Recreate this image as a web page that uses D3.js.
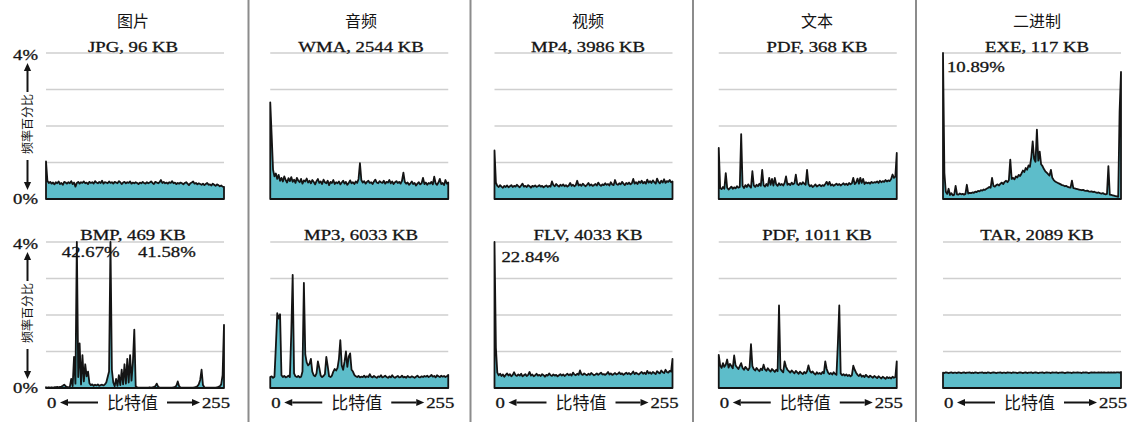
<!DOCTYPE html>
<html><head><meta charset="utf-8">
<script src="https://cdn.jsdelivr.net/npm/d3@7"></script>
<style>body{margin:0;background:#fff}svg{display:block}</style>
</head><body><svg id="c" width="1131" height="422"></svg>
<script>
// ---------- data (frequency %, 128 bins of 2 byte values each, 0..255) ----------
const categories = ["图片", "音频", "视频", "文本", "二进制"];
const topFiles = ["JPG, 96 KB", "WMA, 2544 KB", "MP4, 3986 KB", "PDF, 368 KB", "EXE, 117 KB"];
const bottomFiles = ["BMP, 469 KB", "MP3, 6033 KB", "FLV, 4033 KB", "PDF, 1011 KB", "TAR, 2089 KB"];
const gridTicks = [1, 2, 3, 4];
const yTickLabels = [{v: 4, t: "4%"}, {v: 0, t: "0%"}];
const xEndLabels = ["0", "255"];
const xAxisTitle = "比特值";
const yAxisTitle = "频率百分比";

const jpg = [
1.03,0.50,0.44,0.47,0.42,0.45,0.40,0.46,0.43,0.48,0.41,0.44,0.39,0.47,0.45,0.42,
0.46,0.43,0.49,0.41,0.45,0.34,0.44,0.47,0.42,0.46,0.44,0.48,0.43,0.45,0.41,0.47,
0.44,0.46,0.42,0.49,0.45,0.43,0.47,0.44,0.50,0.42,0.46,0.45,0.43,0.48,0.44,0.46,
0.42,0.47,0.45,0.43,0.49,0.46,0.41,0.45,0.47,0.43,0.46,0.44,0.48,0.42,0.45,0.43,
0.46,0.44,0.41,0.45,0.43,0.47,0.44,0.42,0.46,0.43,0.45,0.48,0.44,0.41,0.47,0.45,
0.43,0.46,0.52,0.44,0.47,0.43,0.45,0.42,0.46,0.44,0.49,0.43,0.45,0.41,0.44,0.42,
0.45,0.43,0.40,0.44,0.46,0.42,0.38,0.43,0.45,0.48,0.42,0.44,0.40,0.43,0.41,0.39,
0.42,0.38,0.41,0.44,0.39,0.40,0.37,0.42,0.39,0.36,0.40,0.38,0.35,0.37,0.34,0.33];

const wma = [
2.65,1.75,0.80,0.62,0.70,0.55,0.66,0.50,0.58,0.48,0.62,0.52,0.45,0.57,0.49,0.60,
0.47,0.53,0.44,0.58,0.50,0.46,0.55,0.42,0.51,0.48,0.56,0.45,0.50,0.43,0.52,0.47,
0.40,0.49,0.55,0.44,0.48,0.41,0.53,0.46,0.43,0.50,0.38,0.47,0.44,0.52,0.41,0.46,
0.43,0.48,0.40,0.45,0.50,0.42,0.47,0.39,0.44,0.51,0.43,0.46,0.41,0.48,0.44,0.55,
0.98,0.52,0.45,0.49,0.42,0.47,0.50,0.44,0.46,0.41,0.48,0.53,0.45,0.43,0.49,0.46,
0.44,0.50,0.42,0.47,0.45,0.52,0.43,0.48,0.41,0.46,0.49,0.44,0.47,0.42,0.50,0.72,
0.47,0.42,0.45,0.39,0.43,0.48,0.41,0.44,0.37,0.42,0.46,0.40,0.43,0.58,0.41,0.45,
0.39,0.44,0.42,0.47,0.40,0.61,0.43,0.39,0.45,0.55,0.41,0.44,0.38,0.52,0.42,0.45];

const mp4 = [
1.33,0.45,0.36,0.33,0.38,0.34,0.31,0.36,0.33,0.37,0.32,0.35,0.38,0.33,0.36,0.34,
0.39,0.35,0.32,0.37,0.42,0.34,0.36,0.33,0.38,0.35,0.31,0.36,0.34,0.37,0.33,0.35,
0.38,0.34,0.36,0.32,0.35,0.37,0.33,0.36,0.34,0.48,0.38,0.35,0.41,0.37,0.34,0.39,
0.36,0.40,0.35,0.38,0.34,0.37,0.44,0.36,0.39,0.35,0.38,0.50,0.37,0.40,0.36,0.42,
0.38,0.35,0.39,0.44,0.37,0.40,0.36,0.38,0.41,0.37,0.45,0.39,0.36,0.40,0.38,0.43,
0.39,0.41,0.37,0.46,0.40,0.38,0.52,0.41,0.39,0.43,0.40,0.47,0.42,0.38,0.44,0.41,
0.45,0.40,0.43,0.55,0.42,0.46,0.41,0.48,0.44,0.50,0.43,0.47,0.42,0.53,0.45,0.49,
0.44,0.51,0.46,0.42,0.56,0.47,0.43,0.50,0.45,0.54,0.44,0.49,0.47,0.52,0.46,0.48];

const pdf368 = [
1.40,0.30,0.27,0.33,0.28,0.71,0.31,0.26,0.30,0.34,0.28,0.32,0.29,0.35,0.31,0.33,
1.78,0.36,0.30,0.38,0.33,0.40,0.35,0.31,0.76,0.37,0.33,0.39,0.35,0.42,0.36,0.80,
0.38,0.34,0.41,0.36,0.58,0.39,0.55,0.37,0.58,0.40,0.36,0.43,0.38,0.41,0.37,0.44,
0.62,0.39,0.42,0.38,0.45,0.40,0.43,0.67,0.41,0.38,0.44,0.40,0.46,0.42,0.39,0.80,
0.41,0.35,0.38,0.33,0.36,0.40,0.34,0.37,0.39,0.35,0.38,0.36,0.41,0.47,0.39,0.47,
0.37,0.40,0.36,0.39,0.42,0.38,0.41,0.37,0.40,0.43,0.39,0.42,0.38,0.44,0.40,0.43,
0.58,0.41,0.45,0.56,0.42,0.58,0.44,0.55,0.41,0.46,0.43,0.45,0.42,0.47,0.44,0.46,
0.45,0.48,0.44,0.50,0.46,0.49,0.47,0.52,0.48,0.51,0.49,0.55,0.67,0.58,0.62,1.26];

const exe = [
10.89,0.71,0.20,0.14,0.28,0.11,0.16,0.10,0.12,0.36,0.13,0.12,0.15,0.13,0.14,0.12,
0.14,0.39,0.15,0.17,0.16,0.18,0.17,0.20,0.19,0.22,0.21,0.24,0.23,0.26,0.25,0.28,
0.30,0.33,0.31,0.58,0.36,0.34,0.38,0.40,0.37,0.42,0.45,0.41,0.47,0.50,0.46,0.52,
1.08,0.55,0.58,0.54,0.62,0.59,0.66,0.63,0.70,0.78,0.74,0.85,0.80,0.92,0.88,1.15,
1.58,1.10,1.02,1.90,1.05,1.30,0.95,0.90,0.82,0.76,0.72,0.68,0.64,0.80,0.58,0.52,
0.48,0.46,0.44,0.42,0.40,0.38,0.37,0.35,0.36,0.33,0.32,0.31,0.50,0.30,0.29,0.28,
0.27,0.26,0.25,0.24,0.25,0.23,0.22,0.23,0.21,0.20,0.21,0.19,0.20,0.18,0.17,0.18,
0.16,0.15,0.16,0.14,0.13,0.14,0.90,0.12,0.11,0.10,0.09,0.08,0.07,0.06,2.40,3.48];

const bmp = [
0.02,0.01,0.02,0.01,0.02,0.01,0.02,0.02,0.03,0.02,0.03,0.04,0.06,0.09,0.05,0.03,
0.02,0.03,0.25,0.05,0.85,0.12,42.67,0.30,1.22,0.10,0.90,0.18,0.65,0.32,0.45,0.13,
0.08,0.10,0.06,0.09,0.07,0.10,0.06,0.08,0.09,0.07,0.10,0.15,0.30,0.45,41.58,0.50,
0.15,0.05,0.25,0.06,0.35,0.08,0.50,0.10,0.65,0.12,0.80,0.15,0.90,0.20,0.70,1.60,
0.05,0.02,0.01,0.01,0.01,0.01,0.01,0.01,0.01,0.01,0.02,0.01,0.02,0.03,0.05,0.12,
0.04,0.01,0.01,0.01,0.01,0.01,0.01,0.01,0.01,0.01,0.01,0.02,0.03,0.06,0.18,0.05,
0.01,0.01,0.01,0.01,0.01,0.01,0.01,0.01,0.01,0.01,0.02,0.03,0.05,0.10,0.22,0.50,
0.08,0.02,0.01,0.01,0.01,0.01,0.01,0.01,0.01,0.01,0.02,0.03,0.05,0.10,0.35,1.73];

const mp3 = [
0.30,0.32,0.28,0.31,1.14,2.05,1.90,2.02,0.35,0.30,0.33,0.29,0.31,0.34,0.30,1.50,
3.10,0.40,0.32,0.30,0.33,0.29,0.31,0.45,2.88,0.92,0.70,0.62,0.66,0.80,0.45,0.35,
0.32,0.40,0.73,0.55,0.34,0.30,0.33,0.38,0.85,0.60,0.32,0.30,0.34,0.45,0.52,0.48,
0.55,0.80,1.31,0.62,0.50,0.72,1.00,0.58,0.86,0.95,0.50,0.45,0.36,0.32,0.30,0.33,
0.29,0.31,0.30,0.34,0.29,0.32,0.30,0.38,0.31,0.29,0.33,0.30,0.28,0.32,0.30,0.35,
0.29,0.31,0.34,0.30,0.28,0.32,0.29,0.35,0.30,0.28,0.31,0.33,0.29,0.30,0.34,0.29,
0.31,0.28,0.33,0.30,0.29,0.32,0.30,0.28,0.31,0.34,0.30,0.29,0.32,0.30,0.33,0.31,
0.34,0.30,0.32,0.36,0.31,0.33,0.29,0.35,0.32,0.30,0.34,0.31,0.33,0.30,0.32,0.36];

const flv = [
22.84,1.10,0.42,0.35,0.39,0.33,0.37,0.31,0.36,0.40,0.34,0.38,0.32,0.36,0.43,0.35,
0.33,0.37,0.34,0.39,0.32,0.35,0.38,0.33,0.36,0.44,0.34,0.37,0.32,0.35,0.39,0.34,
0.36,0.33,0.38,0.35,0.31,0.36,0.34,0.40,0.35,0.33,0.37,0.34,0.36,0.32,0.35,0.38,
0.34,0.37,0.33,0.36,0.39,0.35,0.38,0.34,0.42,0.37,0.35,0.39,0.36,0.48,0.38,0.36,
0.40,0.37,0.35,0.39,0.36,0.41,0.38,0.35,0.37,0.40,0.36,0.39,0.42,0.37,0.38,0.36,
0.39,0.44,0.37,0.40,0.36,0.38,0.41,0.37,0.39,0.43,0.38,0.40,0.36,0.39,0.42,0.38,
0.41,0.37,0.40,0.45,0.38,0.42,0.39,0.37,0.41,0.44,0.39,0.42,0.38,0.47,0.40,0.43,
0.39,0.44,0.41,0.38,0.46,0.42,0.40,0.48,0.43,0.41,0.50,0.44,0.42,0.47,0.45,0.80];

const pdf1011 = [
0.91,0.62,0.55,0.68,0.58,0.64,0.78,0.56,0.66,0.60,0.54,0.89,0.62,0.57,0.52,0.60,
0.68,0.55,0.50,0.58,0.53,0.49,0.56,1.20,0.60,0.52,0.48,0.55,0.50,0.46,0.53,0.49,
0.64,0.51,0.47,0.54,0.49,0.45,0.52,0.48,0.44,0.50,0.46,2.26,0.52,0.47,0.43,0.73,
0.58,0.50,0.46,0.42,0.48,0.44,0.40,0.47,0.43,0.39,0.45,0.41,0.38,0.44,0.40,0.46,
0.62,0.47,0.42,0.45,0.40,0.37,0.43,0.39,0.41,0.38,0.44,0.40,0.73,0.52,0.42,0.38,
0.41,0.37,0.43,0.39,0.36,1.23,2.26,0.40,0.35,0.38,0.34,0.37,0.33,0.36,0.32,0.35,
0.61,0.50,0.42,0.36,0.33,0.38,0.31,0.34,0.30,0.36,0.32,0.29,0.34,0.31,0.28,0.33,
0.30,0.27,0.32,0.29,0.26,0.31,0.28,0.25,0.30,0.27,0.29,0.26,0.31,0.28,0.30,0.73];

const tar = [
0.42,0.41,0.43,0.42,0.41,0.42,0.43,0.41,0.42,0.42,0.41,0.43,0.42,0.41,0.42,0.43,
0.41,0.42,0.42,0.43,0.41,0.42,0.41,0.43,0.42,0.41,0.42,0.42,0.43,0.41,0.42,0.41,
0.43,0.42,0.41,0.42,0.43,0.42,0.41,0.42,0.42,0.43,0.41,0.42,0.42,0.41,0.43,0.42,
0.42,0.41,0.43,0.42,0.42,0.41,0.42,0.43,0.42,0.41,0.42,0.43,0.41,0.42,0.42,0.43,
0.41,0.42,0.43,0.42,0.41,0.42,0.42,0.43,0.41,0.42,0.43,0.42,0.42,0.41,0.43,0.42,
0.42,0.43,0.41,0.42,0.42,0.43,0.42,0.41,0.42,0.43,0.42,0.42,0.41,0.43,0.42,0.42,
0.43,0.42,0.42,0.41,0.43,0.42,0.43,0.42,0.41,0.42,0.43,0.42,0.43,0.42,0.42,0.43,
0.42,0.43,0.42,0.43,0.42,0.42,0.43,0.42,0.43,0.42,0.43,0.42,0.43,0.43,0.42,0.44];

const rowsData = [[jpg, wma, mp4, pdf368, exe], [bmp, mp3, flv, pdf1011, tar]];
const rowFiles = [topFiles, bottomFiles];

// ---------- layout ----------
const svg = d3.select("#c");
const SERIF = "'Liberation Serif','Times New Roman',serif";
const CJK = "'Noto Sans CJK SC','Noto Sans',sans-serif";
const INK = "#141414";
const FILL = "#5dbdca";
const plotLeft0 = 46, colStep = 224.25, plotW = 178;
const rowTop = [53, 242], rowBase = [199, 388];
const titleX = [133, 361, 588, 817, 1037];
const separators = [248.5, 470.5, 693, 916];
const STRETCH = 1.25;
// label offsets for clipped spikes: [row, col] -> dx list, dy
const spikeLabelPos = {"1-0": [[-15, 15], [27.5, 15]], "0-4": [[4, 19]], "1-2": [[7, 20]]};

function serifText(g, x, y, txt, anchor, size) {
  return g.append("text")
    .attr("transform", `translate(${x},${y}) scale(${STRETCH},1)`)
    .attr("text-anchor", anchor || "middle")
    .attr("font-family", SERIF).attr("font-size", size || 15)
    .attr("fill", INK).attr("stroke", INK).attr("stroke-width", 0.3).text(txt);
}
function arrow(g, x1, y1, x2, y2) {
  const dx = x2 - x1, dy = y2 - y1, L = Math.hypot(dx, dy), ux = dx / L, uy = dy / L, h = 8, w = 3.6;
  const bx = x2 - ux * h, by = y2 - uy * h;
  g.append("line").attr("x1", x1).attr("y1", y1).attr("x2", bx).attr("y2", by)
    .attr("stroke", INK).attr("stroke-width", 2);
  g.append("path").attr("d", `M${x2},${y2}L${bx - uy * w},${by + ux * w}L${bx + uy * w},${by - ux * w}Z`)
    .attr("fill", INK);
}

// separators
separators.forEach(sx => svg.append("line").attr("x1", sx).attr("x2", sx).attr("y1", 0).attr("y2", 422)
  .attr("stroke", "#8c8c8c").attr("stroke-width", 2));

// category titles
categories.forEach((t, c) => svg.append("text").attr("x", titleX[c]).attr("y", 27)
  .attr("text-anchor", "middle").attr("font-family", CJK).attr("font-size", 16).attr("fill", INK).text(t));

rowsData.forEach((row, r) => {
  row.forEach((series, c) => {
    const g = svg.append("g");
    const left = plotLeft0 + c * colStep;
    const x = d3.scaleLinear().domain([0, series.length - 1]).range([left, left + plotW]);
    const y = d3.scaleLinear().domain([0, 4]).range([rowBase[r], rowTop[r]]).clamp(true);

    g.selectAll("line.grid").data(gridTicks).join("line").attr("class", "grid")
      .attr("x1", left).attr("x2", left + plotW)
      .attr("y1", d => y(d)).attr("y2", d => y(d))
      .attr("stroke", "#cfcfcf").attr("stroke-width", 1.5);

    const area = d3.area().x((d, i) => x(i)).y0(y(0)).y1(d => y(d));
    g.append("path").datum(series).attr("d", area)
      .attr("fill", FILL).attr("stroke", INK).attr("stroke-width", 1.8)
      .attr("stroke-linejoin", "round");

    // file subtitle
    serifText(g, titleX[c], rowTop[r] - (r === 0 ? 1 : 2), rowFiles[r][c], "middle", 15);

    // labels for clipped spikes
    const pos = spikeLabelPos[r + "-" + c];
    if (pos) {
      let k = 0;
      series.forEach((v, i) => {
        if (v > 4 && pos[k]) {
          serifText(g, x(i) + pos[k][0], rowTop[r] + pos[k][1], d3.format(".2f")(v) + "%", "start", 15);
          k++;
        }
      });
    }

    // y axis labels on first column
    if (c === 0) {
      yTickLabels.forEach(t => serifText(g, 38, y(t.v) + (t.v === 4 ? 6.5 : 4.5), t.t, "end", 15));
      const top = rowTop[r], base = rowBase[r];
      const midY = (top + base) / 2 - 2;
      g.append("text").attr("transform", `translate(31.5,${midY}) rotate(-90)`)
        .attr("text-anchor", "middle").attr("font-family", CJK).attr("font-size", 12)
        .attr("fill", INK).text(yAxisTitle);
      arrow(g, 27.5, midY - 32, 27.5, top + 10);
      arrow(g, 27.5, midY + 36, 27.5, base - 9);
    }

    // x axis labels on bottom row
    if (r === 1) {
      const ly = 408;
      serifText(g, left + 1, ly, xEndLabels[0], "start", 15);
      serifText(g, left + plotW + 6, ly, xEndLabels[1], "end", 15);
      g.append("text").attr("x", left + 86.5).attr("y", ly + 1).attr("text-anchor", "middle")
        .attr("font-family", CJK).attr("font-size", 17).attr("fill", INK).text(xAxisTitle);
      arrow(g, left + 52, 402.5, left + 14, 402.5);
      arrow(g, left + 121, 402.5, left + 154, 402.5);
    }
  });
});
</script></body></html>
